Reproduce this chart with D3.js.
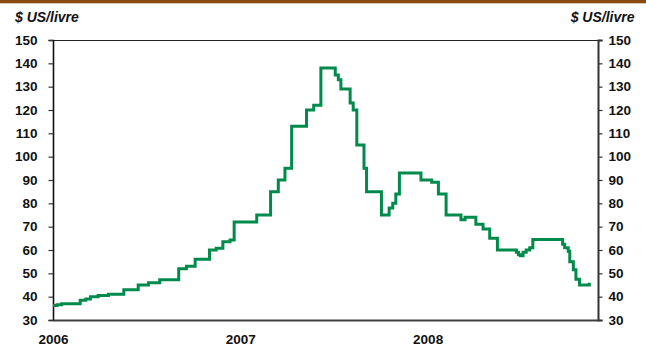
<!DOCTYPE html>
<html><head><meta charset="utf-8">
<script src="https://cdn.jsdelivr.net/npm/d3@7"></script>
<style>
html,body{margin:0;padding:0;background:#fff;}
svg{display:block;font-family:"Liberation Sans",Arial,sans-serif;}
</style></head>
<body><svg id="c" width="646" height="347"></svg>
<script>
// Uranium spot price, $ US/livre (step changes)
const dates = ["2006-01-01","2006-01-09","2006-01-18","2006-02-23","2006-03-06","2006-03-15","2006-03-30","2006-04-19","2006-05-19","2006-06-16","2006-07-06","2006-07-28","2006-09-03","2006-09-18","2006-10-05","2006-11-02","2006-11-15","2006-11-28","2006-12-12","2006-12-20",
"2007-02-02","2007-03-01","2007-03-16","2007-03-29","2007-04-11","2007-05-10","2007-05-24","2007-06-07","2007-07-05","2007-07-11","2007-07-16","2007-08-03","2007-08-09","2007-08-16","2007-08-30","2007-09-04","2007-10-03","2007-10-18","2007-10-25","2007-10-31","2007-11-07","2007-12-19",
"2008-01-09","2008-01-22","2008-02-06","2008-03-06","2008-03-14","2008-04-04","2008-04-18","2008-05-01","2008-05-16","2008-06-22","2008-06-26","2008-06-30","2008-07-05","2008-07-11","2008-07-18","2008-07-24","2008-09-20","2008-09-24","2008-10-01","2008-10-04","2008-10-11","2008-10-16","2008-10-23","2008-11-11"];
const prices = [36.25,36.5,37,38.5,39,40,40.5,41,43,45,46,47.25,52,53,56,60,60.75,63.5,64.25,72,
75,85,90,95,113,120,122,138,135,133,129,123,120,105,95,85,75,78,80,84,93,90,
89,84,75,73,74,71,69,65,60,59,58,57.5,59,60,61,64.5,62.5,61,59.5,55,51.5,47.5,45,46];
const yTicks = [30,40,50,60,70,80,90,100,110,120,130,140,150];
const xTickYears = ["2006","2007","2008"];
const unitLabel = "$ US/livre";
const domainStart = "2006-01-01", domainEnd = "2008-11-28";

const svg = d3.select("#c");
const W = 646, H = 347;
const L = 53, R = 598, T = 40, B = 320;
const parse = d3.timeParse("%Y-%m-%d");
const data = dates.map((d,i)=>({date:parse(d), v:prices[i]}));

const x = d3.scaleTime().domain([parse(domainStart), parse(domainEnd)]).range([L, R]);
const y = d3.scaleLinear().domain([30,150]).range([B, T]);

// top brown bar
svg.append("rect").attr("x",0).attr("y",0).attr("width",W).attr("height",3.3).attr("fill","#8a4a0e");

// frame top
svg.append("line").attr("x1",L).attr("x2",R).attr("y1",T+0.5).attr("y2",T+0.5).attr("stroke","#222").attr("stroke-width",1.2);

// left axis
const la = svg.append("g").attr("transform",`translate(${L},0)`)
  .call(d3.axisLeft(y).tickValues(yTicks).tickSize(4.5).tickPadding(11).tickFormat(d3.format("d")));
la.select(".domain").attr("stroke","#111").attr("stroke-width",1.6);
la.selectAll(".tick line").attr("stroke","#333").attr("stroke-width",1.2);
la.selectAll("text").attr("font-size","13.5px").attr("font-weight","bold").attr("fill","#111").attr("font-family","Liberation Sans, Arial, sans-serif");

// right axis
const ra = svg.append("g").attr("transform",`translate(${R},0)`)
  .call(d3.axisRight(y).tickValues(yTicks).tickSize(4.5).tickPadding(6).tickFormat(d3.format("d")));
ra.select(".domain").attr("stroke","#333").attr("stroke-width",2);
ra.selectAll(".tick line").attr("stroke","#333").attr("stroke-width",1.2);
ra.selectAll("text").attr("font-size","13.5px").attr("font-weight","bold").attr("fill","#111").attr("font-family","Liberation Sans, Arial, sans-serif");

// bottom axis
const ba = svg.append("g").attr("transform",`translate(0,${B})`)
  .call(d3.axisBottom(x).tickValues(xTickYears.map(s=>parse(s+"-01-01"))).tickSize(0).tickPadding(14).tickFormat(d3.timeFormat("%Y")));
ba.select(".domain").attr("stroke","#404040").attr("stroke-width",2.2);
ba.selectAll("text").attr("font-size","13.5px").attr("font-weight","bold").attr("fill","#111").attr("font-family","Liberation Sans, Arial, sans-serif");

// unit labels
svg.append("text").attr("x",15).attr("y",21.5).text(unitLabel)
  .attr("font-size","14px").attr("font-weight","bold").attr("font-style","italic").attr("fill","#111");
svg.append("text").attr("x",634.5).attr("y",21.5).attr("text-anchor","end").text(unitLabel)
  .attr("font-size","14px").attr("font-weight","bold").attr("font-style","italic").attr("fill","#111");

// line
const line = d3.line().x(d=>x(d.date)).y(d=>y(d.v)).curve(d3.curveStepAfter);
svg.append("path").datum(data).attr("d",line).attr("fill","none")
  .attr("stroke","#008a4b").attr("stroke-width",3).attr("stroke-linejoin","miter");
</script></body></html>
